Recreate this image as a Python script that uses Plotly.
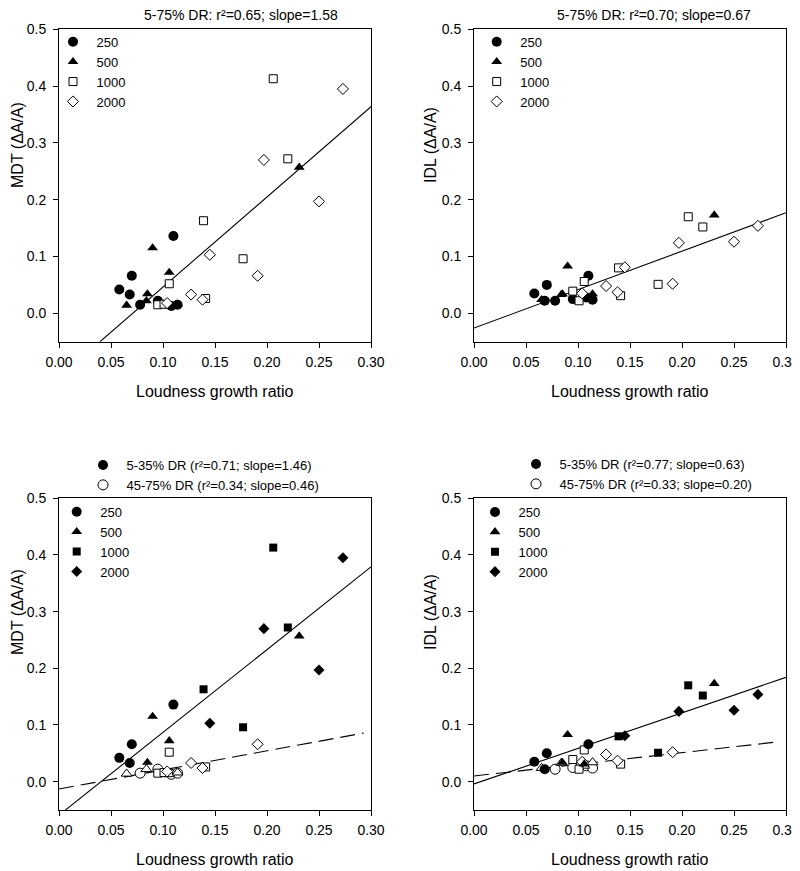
import plotly.graph_objects as go

# ---------------- data ----------------
freqs = ["250", "500", "1000", "2000"]

# loudness growth ratio per point; first four = 5-35% DR, last four = 45-75% DR
x_250 = [0.058, 0.068, 0.070, 0.110, 0.078, 0.095, 0.108, 0.114]
mdt_250 = [0.042, 0.033, 0.066, 0.136, 0.015, 0.022, 0.013, 0.015]
idl_250 = [0.035, 0.022, 0.050, 0.066, 0.022, 0.025, 0.028, 0.024]
dr_250 = ["low", "low", "low", "low", "high", "high", "high", "high"]

x_500 = [0.085, 0.090, 0.106, 0.231, 0.065, 0.084, 0.106, 0.114]
mdt_500 = [0.034, 0.115, 0.072, 0.257, 0.014, 0.022, 0.013, 0.016]
idl_500 = [0.034, 0.083, 0.031, 0.173, 0.024, 0.033, 0.028, 0.034]
dr_500 = ["low", "low", "low", "low", "high", "high", "high", "high"]

x_1000 = [0.139, 0.177, 0.206, 0.220, 0.095, 0.101, 0.106, 0.141]
mdt_1000 = [0.163, 0.096, 0.413, 0.272, 0.015, 0.016, 0.052, 0.026]
idl_1000 = [0.080, 0.051, 0.170, 0.152, 0.039, 0.022, 0.056, 0.031]
dr_1000 = ["low", "low", "low", "low", "high", "high", "high", "high"]

x_2000 = [0.145, 0.197, 0.250, 0.273, 0.104, 0.127, 0.138, 0.191]
mdt_2000 = [0.103, 0.270, 0.197, 0.395, 0.018, 0.033, 0.024, 0.066]
idl_2000 = [0.081, 0.124, 0.126, 0.154, 0.035, 0.048, 0.037, 0.052]
dr_2000 = ["low", "low", "low", "low", "high", "high", "high", "high"]

# regression lines as drawn: [slope, intercept, x_start, x_end]
fit_mdt_all = [1.587, -0.1125, 0.0394, 0.30]
fit_idl_all = [0.677, -0.026, 0.0, 0.30]
fit_mdt_low = [1.46, -0.059, 0.006, 0.30]
fit_mdt_high = [0.337, -0.013, 0.0, 0.293]
fit_idl_low = [0.627, -0.004, 0.0, 0.30]
fit_idl_high = [0.206, 0.010, 0.0, 0.294]

title_tl = "5-75% DR: r\u00b2=0.65; slope=1.58"
title_tr = "5-75% DR: r\u00b2=0.70; slope=0.67"
dr_low_bl = "5-35% DR (r\u00b2=0.71; slope=1.46)"
dr_high_bl = "45-75% DR (r\u00b2=0.34; slope=0.46)"
dr_low_br = "5-35% DR (r\u00b2=0.77; slope=0.63)"
dr_high_br = "45-75% DR (r\u00b2=0.33; slope=0.20)"
x_title = "Loudness growth ratio"
y_title_mdt = "MDT (\u0394A/A)"
y_title_idl = "IDL (\u0394A/A)"

# ---------------- styling ----------------
# the page body keeps its default 8px margin, so the figure is 8px smaller
# than the window and all layout positions below are window pixels
OFF = 8
W, H = 800 - OFF, 871 - OFF
FONT = "Liberation Sans, Arial, sans-serif"
data = {
    "250": (x_250, mdt_250, idl_250, dr_250),
    "500": (x_500, mdt_500, idl_500, dr_500),
    "1000": (x_1000, mdt_1000, idl_1000, dr_1000),
    "2000": (x_2000, mdt_2000, idl_2000, dr_2000),
}
symbol = {"250": "circle", "500": "triangle-up", "1000": "square", "2000": "diamond"}
msize = {"250": 10, "500": 9.5, "1000": 8, "2000": 8.5}
top_filled = {"250": True, "500": True, "1000": False, "2000": False}


def px(xp):
    return (xp - OFF) / W


def py(yp):
    return 1 - (yp - OFF) / H


def marker(f, filled):
    return dict(symbol=symbol[f], size=msize[f],
                color="black" if filled else "white",
                line=dict(color="black", width=0 if filled else 1))


fig = go.Figure()


def fit_line(fit, xa, ya, dash):
    s, b, x0, x1 = fit
    xs = [x0, x1]
    fig.add_trace(go.Scatter(x=xs, y=[s * v + b for v in xs], mode="lines",
                             line=dict(color="black", width=1.1, dash=dash),
                             xaxis=xa, yaxis=ya, showlegend=False, hoverinfo="skip"))


# top-left / top-right
fit_line(fit_mdt_all, "x", "y", "solid")
fit_line(fit_idl_all, "x2", "y2", "solid")
for f in freqs:
    xs, mdt, idl, dr = data[f]
    fig.add_trace(go.Scatter(x=xs, y=mdt, mode="markers", name=f,
                             marker=marker(f, top_filled[f]),
                             xaxis="x", yaxis="y", legend="legend"))
    fig.add_trace(go.Scatter(x=xs, y=idl, mode="markers", name=f,
                             marker=marker(f, top_filled[f]),
                             xaxis="x2", yaxis="y2", legend="legend2"))

# bottom panels
fit_line(fit_mdt_low, "x3", "y3", "solid")
fit_line(fit_mdt_high, "x3", "y3", "15px,7px")
fit_line(fit_idl_low, "x4", "y4", "solid")
fit_line(fit_idl_high, "x4", "y4", "15px,7px")
for f in freqs:
    xs, mdt, idl, dr = data[f]
    hi = [i for i, g in enumerate(dr) if g == "high"]
    for (vals, xa, ya) in ((mdt, "x3", "y3"), (idl, "x4", "y4")):
        fig.add_trace(go.Scatter(x=[xs[i] for i in hi], y=[vals[i] for i in hi],
                                 mode="markers", marker=marker(f, False),
                                 xaxis=xa, yaxis=ya, showlegend=False))
for f in freqs:
    xs, mdt, idl, dr = data[f]
    lo = [i for i, g in enumerate(dr) if g == "low"]
    fig.add_trace(go.Scatter(x=[xs[i] for i in lo], y=[mdt[i] for i in lo],
                             mode="markers", name=f, marker=marker(f, True),
                             xaxis="x3", yaxis="y3", legend="legend3"))
    fig.add_trace(go.Scatter(x=[xs[i] for i in lo], y=[idl[i] for i in lo],
                             mode="markers", name=f, marker=marker(f, True),
                             xaxis="x4", yaxis="y4", legend="legend4"))

# DR-range legend entries
for name, filled, xa, ya, lg in ((dr_low_bl, True, "x3", "y3", "legend5"),
                                 (dr_high_bl, False, "x3", "y3", "legend5"),
                                 (dr_low_br, True, "x4", "y4", "legend6"),
                                 (dr_high_br, False, "x4", "y4", "legend6")):
    fig.add_trace(go.Scatter(x=[None], y=[None], mode="markers", name=name,
                             marker=dict(symbol="circle", size=10,
                                         color="black" if filled else "white",
                                         line=dict(color="black", width=0 if filled else 1)),
                             xaxis=xa, yaxis=ya, legend=lg))

# ---------------- axes ----------------
COL_L = (59, 371)
COL_R = (474, 786)
ROW_T = (29.3, 341.7)
ROW_B = (498.3, 810)

axis_common = dict(showline=True, linecolor="black", linewidth=1, mirror=True,
                   ticks="outside", ticklen=5, tickwidth=1, tickcolor="black",
                   showgrid=False, zeroline=False, automargin=False,
                   tickfont=dict(family=FONT, size=14, color="black"))
xcommon = dict(axis_common, range=[0, 0.30], tick0=0, dtick=0.05, tickformat=".2f",
               ticklabelstandoff=2)
ycommon = dict(axis_common, range=[-0.05, 0.5], tick0=0, dtick=0.1, tickformat=".1f",
               ticklabelstandoff=4)

layout = dict(
    width=W, height=H, margin=dict(l=0, r=0, t=0, b=0, pad=0, autoexpand=False),
    paper_bgcolor="white", plot_bgcolor="white",
    font=dict(family=FONT, size=14, color="black"),
    xaxis=dict(xcommon, domain=[px(COL_L[0]), px(COL_L[1])], anchor="y"),
    yaxis=dict(ycommon, domain=[py(ROW_T[1]), py(ROW_T[0])], anchor="x"),
    xaxis2=dict(xcommon, domain=[px(COL_R[0]), px(COL_R[1])], anchor="y2"),
    yaxis2=dict(ycommon, domain=[py(ROW_T[1]), py(ROW_T[0])], anchor="x2"),
    xaxis3=dict(xcommon, domain=[px(COL_L[0]), px(COL_L[1])], anchor="y3"),
    yaxis3=dict(ycommon, domain=[py(ROW_B[1]), py(ROW_B[0])], anchor="x3"),
    xaxis4=dict(xcommon, domain=[px(COL_R[0]), px(COL_R[1])], anchor="y4"),
    yaxis4=dict(ycommon, domain=[py(ROW_B[1]), py(ROW_B[0])], anchor="x4"),
)


def legend_at(xl, yt):
    return dict(x=px(xl), y=py(yt), xanchor="left", yanchor="top",
                bgcolor="rgba(0,0,0,0)", borderwidth=0, itemwidth=37,
                tracegroupgap=0, traceorder="normal",
                font=dict(family=FONT, size=13, color="black"))


layout["legend"] = legend_at(49.5, 26.8)
layout["legend2"] = legend_at(473.2, 26.8)
layout["legend3"] = legend_at(53.2, 496.8)
layout["legend4"] = legend_at(471.5, 497)
layout["legend5"] = legend_at(79.5, 450)
layout["legend6"] = legend_at(512.5, 449)
fig.update_layout(**layout)

ann = []


def text(t, x, y, size=14, angle=0):
    ann.append(dict(text=t, x=px(x), y=py(y), xref="paper", yref="paper",
                    showarrow=False, xanchor="center", yanchor="middle",
                    textangle=angle, borderpad=0,
                    font=dict(family=FONT, size=size, color="black")))


text(title_tl, 240.5, 15)
text(title_tr, 654, 15)
for cx in ((COL_L[0] + COL_L[1]) / 2, (COL_R[0] + COL_R[1]) / 2):
    text(x_title, cx, 392, size=16)
    text(x_title, cx, 859, size=16)
text(y_title_mdt, 17, 145, size=16, angle=-90)
text(y_title_mdt, 17, 612, size=16, angle=-90)
text(y_title_idl, 430, 145, size=16, angle=-90)
text(y_title_idl, 430, 612, size=16, angle=-90)
fig.update_layout(annotations=ann)

fig.write_html("out.html")
